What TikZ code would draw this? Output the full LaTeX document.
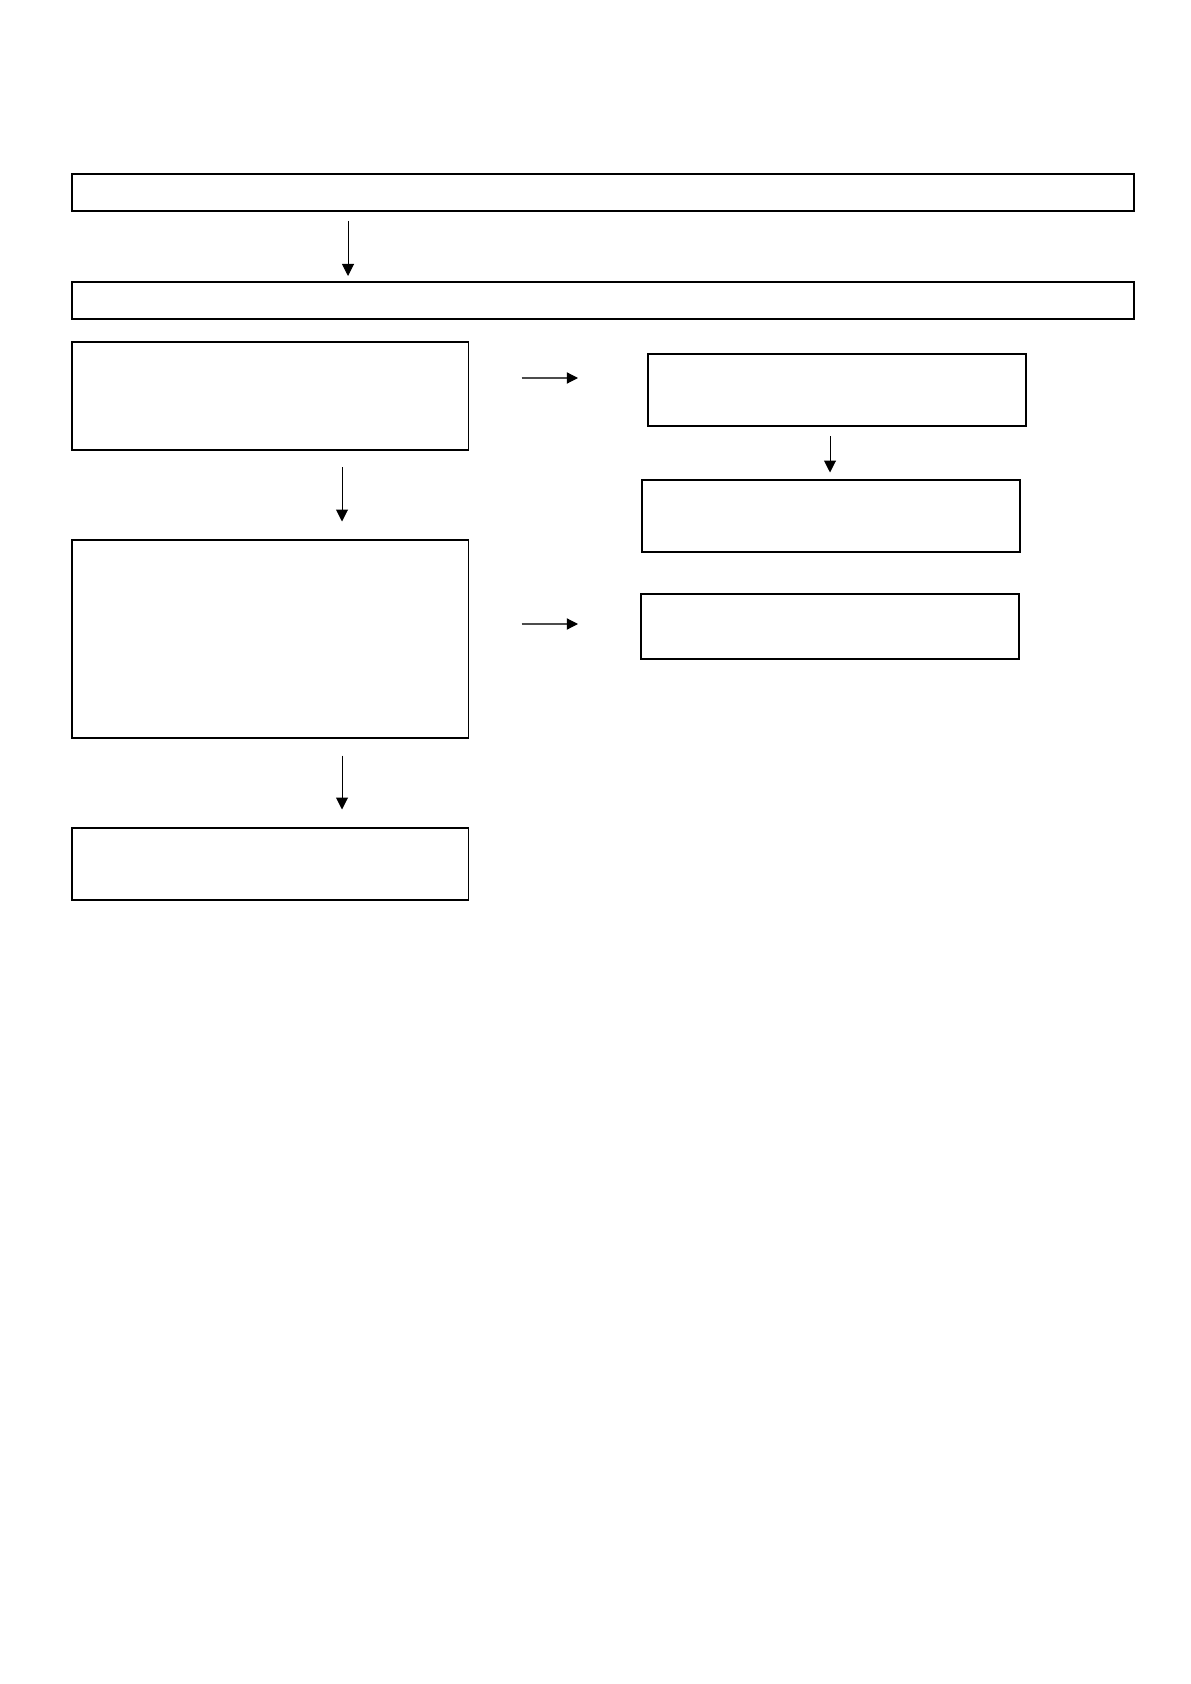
\documentclass[tikz,border=0pt]{standalone}
\usepackage{xcolor}
\usepackage{tikz}
\usetikzlibrary{arrows.meta}

\begin{document}
\begin{tikzpicture}[x=0.5pt, y=-0.5pt,
    box/.style={rectangle, draw, line width=0.8pt, inner sep=0pt},
    arr/.style={-{Triangle[length=6pt, width=6pt]}, line width=0.5pt},
    sidearr/.style={-{Triangle[length=5.6pt, width=5.6pt, color=black]}, line width=0.6pt, draw=black!70}]
    \useasboundingbox (0,0) rectangle (1190,1684);

    \node[box, minimum width=531pt, minimum height=18.6pt] (top) at (603,192.6) {};
    \node[box, minimum width=531pt, minimum height=18.6pt] (second) at (603,300.6) {};
    \node[box, minimum width=198.2pt, minimum height=54pt] (leftA) at (270.2,396) {};
    \node[box, minimum width=198.2pt, minimum height=99pt] (leftB) at (270.2,639) {};
    \node[box, minimum width=198.2pt, minimum height=36pt] (leftC) at (270.2,864) {};
    \node[box, minimum width=189pt, minimum height=36pt] (rightA) at (837,390) {};
    \node[box, minimum width=189pt, minimum height=36pt] (rightB) at (831,516) {};
    \node[box, minimum width=189pt, minimum height=32.6pt] (rightC) at (830,626.6) {};

    \coordinate (a1s) at (348,221);
    \coordinate (a1e) at (348,276);
    \coordinate (a2s) at (342,467);
    \coordinate (a2e) at (342,521.5);
    \coordinate (a3s) at (342,755.5);
    \coordinate (a3e) at (342,809.5);
    \coordinate (a4s) at (830,436.5);
    \coordinate (a4e) at (830,472.5);
    \coordinate (b1s) at (521.5,378);
    \coordinate (b1e) at (578,378);
    \coordinate (b2s) at (521.5,624);
    \coordinate (b2e) at (578,624);

    \draw[arr] (a1s) -- (a1e);
    \draw[arr] (a2s) -- (a2e);
    \draw[arr] (a3s) -- (a3e);
    \draw[arr] (a4s) -- (a4e);
    \draw[sidearr] (b1s) -- (b1e);
    \draw[sidearr] (b2s) -- (b2e);
\end{tikzpicture}
\end{document}
